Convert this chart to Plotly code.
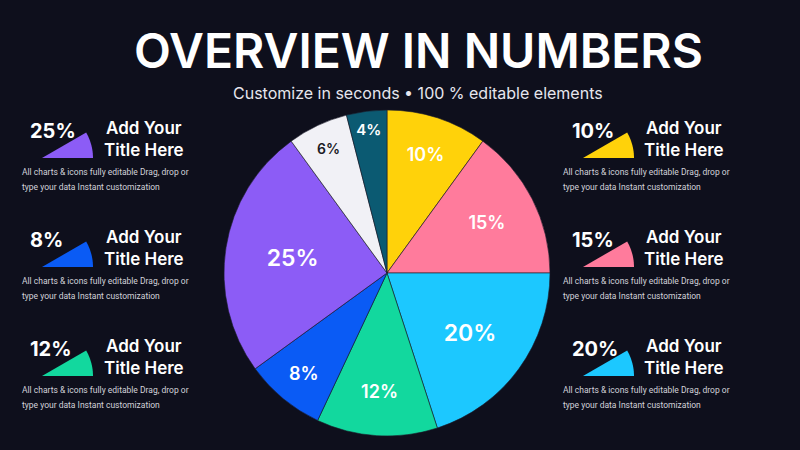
import math
import plotly.graph_objects as go

# pie data (clockwise from 12 o'clock)
slice_values = [10, 15, 20, 12, 8, 25, 6, 4]
slice_colors = ["#FFD20A", "#FF7B9C", "#1CC8FF", "#12D89E", "#0A5BF5", "#8C5CF6", "#F1F1F6", "#0B5A72"]
slice_text_colors = ["white", "white", "white", "white", "white", "white", "#1A1A24", "white"]
slice_text_sizes = [18, 18, 23, 18, 18, 23, 14, 15]

# side blocks
left_values = [25, 8, 12]
left_colors = ["#8C5CF6", "#0A5BF5", "#12D89E"]
right_values = [10, 15, 20]
right_colors = ["#FFD20A", "#FF7B9C", "#1CC8FF"]
block_title = "Add Your<br>Title Here"
desc_lines = ["All charts & icons fully editable Drag, drop or",
              "type your data Instant customization"]

BG = "#0E0F1C"
W, H = 800, 450


def px(x):
    return x / W


def py(y):
    return 1 - y / H


fig = go.Figure()

cx, cy, r = 387, 273, 163
fig.add_trace(go.Pie(
    values=slice_values,
    text=[f"{v}%" for v in slice_values],
    textinfo="text",
    sort=False,
    direction="clockwise",
    rotation=0,
    marker=dict(colors=slice_colors, line=dict(color="#1b1b2a", width=0.6)),
    insidetextfont=dict(color=slice_text_colors, size=slice_text_sizes, family="Inter", weight=600),
    textposition="inside",
    insidetextorientation="horizontal",
    hoverinfo="skip",
    showlegend=False,
    domain=dict(x=[px(cx - r), px(cx + r)], y=[py(cy + r), py(cy - r)]),
))


def wedge(x0, y0, color, rad=51, ang=30):
    # small pie-sector icon, apex at (x0, y0)
    pts = [(x0, y0)]
    for i in range(13):
        a = math.radians(ang * i / 12)
        pts.append((x0 + rad * math.cos(a), y0 - rad * math.sin(a)))
    path = "M " + " L ".join(f"{px(x):.5f},{py(y):.5f}" for x, y in pts) + " Z"
    fig.add_shape(type="path", path=path, xref="paper", yref="paper",
                  fillcolor=color, line=dict(width=0), layer="above")


def block(x_pct, x_icon, x_title, x_desc, y0, val, color):
    wedge(x_icon, y0 + 27, color)
    fig.add_annotation(x=px(x_pct), y=py(y0), text=f"{val}%", showarrow=False,
                       xanchor="left", yanchor="middle",
                       font=dict(size=20, color="white", family="Inter", weight=700))
    fig.add_annotation(x=px(x_title), y=py(y0 + 8), text=block_title, showarrow=False,
                       xanchor="center", yanchor="middle", align="center",
                       font=dict(size=17, color="white", family="Inter", weight=600))
    for i, line in enumerate(desc_lines):
        fig.add_annotation(x=px(x_desc), y=py(y0 + 41 + 15 * i), text=line, showarrow=False,
                           xanchor="left", yanchor="middle",
                           font=dict(size=8.5, color="#D2D2DA", family="Roboto"))


rows_y = [131, 240, 349]
for yy, v, c in zip(rows_y, left_values, left_colors):
    block(28, 42, 144, 20, yy, v, c)
for yy, v, c in zip(rows_y, right_values, right_colors):
    block(570, 583, 684, 561, yy, v, c)

fig.add_annotation(x=px(418), y=py(51), text="OVERVIEW IN NUMBERS", showarrow=False,
                   xanchor="center", yanchor="middle",
                   font=dict(size=48, color="white", family="Inter", weight=600))
fig.add_annotation(x=px(418), y=py(93), text="Customize in seconds \u2022 100 % editable elements",
                   showarrow=False, xanchor="center", yanchor="middle",
                   font=dict(size=16, color="#E6E6EE", family="Inter"))

fig.update_layout(
    width=W, height=H,
    margin=dict(l=0, r=0, t=0, b=0),
    paper_bgcolor=BG, plot_bgcolor=BG,
    showlegend=False,
)

# drop the browser's default page margin so the figure fills the window
fig.write_html("out.html", config={"displayModeBar": False},
               post_script="document.body.style.margin='0';document.body.style.background='%s';" % BG)
